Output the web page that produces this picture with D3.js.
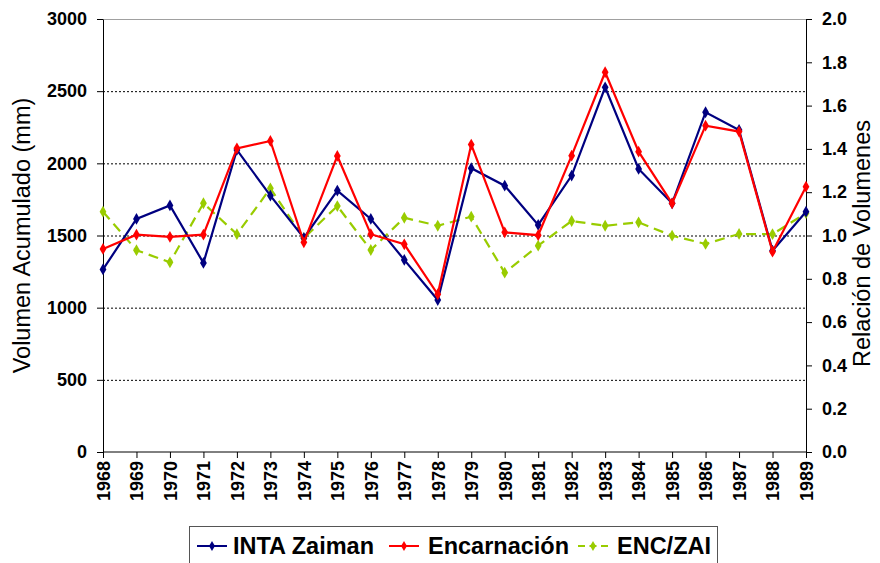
<!DOCTYPE html>
<html>
<head>
<meta charset="utf-8">
<script src="https://cdn.jsdelivr.net/npm/d3@7"></script>
<style>
  body { margin: 0; background: #fff; }
  svg { display: block; font-family: "Liberation Sans", Arial, sans-serif; }
</style>
</head>
<body>
<svg id="chart" width="880" height="563"></svg>
<script>
const years = d3.range(1968, 1990);
const inta = [1265, 1615, 1708, 1310, 2093, 1776, 1483, 1811, 1615, 1331, 1053, 1966, 1845, 1573, 1915, 2527, 1961, 1723, 2354, 2231, 1395, 1665];
const encarnacion = [1407, 1506, 1490, 1506, 2104, 2155, 1453, 2051, 1509, 1439, 1093, 2130, 1522, 1502, 2053, 2631, 2081, 1723, 2261, 2220, 1388, 1838];
const ratio = [1.11, 0.932, 0.876, 1.149, 1.006, 1.218, 0.988, 1.136, 0.933, 1.082, 1.045, 1.087, 0.828, 0.953, 1.067, 1.045, 1.061, 0.999, 0.961, 1.007, 1.006, 1.103];
const leftTicks = d3.range(0, 3001, 500);
const rightTicks = d3.range(0, 2.01, 0.2);

const margin = { top: 19, right: 74, bottom: 111, left: 103 };
const width = 880, height = 563;
const svg = d3.select('#chart');

const x = d3.scalePoint().domain(years).range([margin.left, width - margin.right]);
const yL = d3.scaleLinear().domain([0, 3000]).range([height - margin.bottom, margin.top]);
const yR = d3.scaleLinear().domain([0, 2]).range([height - margin.bottom, margin.top]);

// grid lines
svg.append('g')
  .selectAll('line')
  .data(leftTicks.filter((d) => d > 0 && d < 3000))
  .join('line')
  .attr('x1', margin.left).attr('x2', width - margin.right)
  .attr('y1', (d) => yL(d) + 0.5).attr('y2', (d) => yL(d) + 0.5)
  .attr('stroke', '#000').attr('stroke-width', 1).attr('stroke-dasharray', '2,2');

// top border
svg.append('line')
  .attr('x1', margin.left).attr('x2', width - margin.right)
  .attr('y1', yL(3000) + 0.5).attr('y2', yL(3000) + 0.5)
  .attr('stroke', '#a0a0a0').attr('stroke-width', 1);

const tickStyle = (g) => {
  g.select('.domain').attr('stroke', '#000');
  g.selectAll('.tick line').attr('stroke', '#000');
  g.selectAll('.tick text').attr('fill', '#000').attr('font-size', 18).attr('font-weight', 'bold');
};

svg.append('g')
  .attr('transform', `translate(${margin.left},0)`)
  .call(d3.axisLeft(yL).tickValues(leftTicks).tickSize(6).tickSizeOuter(0).tickPadding(10).tickFormat(d3.format('d')))
  .call(tickStyle);

svg.append('g')
  .attr('transform', `translate(${width - margin.right},0)`)
  .call(d3.axisRight(yR).tickValues(rightTicks).tickSize(6).tickSizeOuter(0).tickPadding(10).tickFormat(d3.format('.1f')))
  .call(tickStyle);

const xAxis = svg.append('g')
  .attr('transform', `translate(0,${height - margin.bottom})`)
  .call(d3.axisBottom(x).tickSize(6).tickSizeOuter(0).tickFormat(d3.format('d')))
  .call(tickStyle);
xAxis.select('.domain').attr('d', `M${margin.left},0H${width - margin.right}`);
xAxis.selectAll('.tick text')
  .attr('transform', 'rotate(-90)')
  .attr('text-anchor', 'end')
  .attr('x', -9).attr('y', 0).attr('dy', '0.35em');

// axis titles
svg.append('text')
  .attr('transform', `translate(30,${(margin.top + height - margin.bottom) / 2}) rotate(-90)`)
  .attr('text-anchor', 'middle').attr('font-size', 23.5).text('Volumen Acumulado (mm)');
svg.append('text')
  .attr('transform', `translate(870,${(margin.top + height - margin.bottom) / 2 + 8}) rotate(-90)`)
  .attr('text-anchor', 'middle').attr('font-size', 23.5).text('Relación de Volumenes');

const series = [
  { name: 'INTA Zaiman', values: inta, scale: yL, color: '#000080', dash: null },
  { name: 'Encarnación', values: encarnacion, scale: yL, color: '#ff0000', dash: null },
  { name: 'ENC/ZAI', values: ratio, scale: yR, color: '#99cc00', dash: '10,6' }
];
const diamond = d3.symbol().type(d3.symbolDiamond).size(40);

// draw ratio first so it sits beneath the other lines
[series[2], series[0], series[1]].forEach((s) => {
  const line = d3.line().x((d, i) => x(years[i])).y((d) => s.scale(d));
  svg.append('path')
    .datum(s.values)
    .attr('fill', 'none').attr('stroke', s.color).attr('stroke-width', 2.2)
    .attr('stroke-dasharray', s.dash)
    .attr('d', line);
  svg.append('g').selectAll('path')
    .data(s.values)
    .join('path')
    .attr('transform', (d, i) => `translate(${x(years[i])},${s.scale(d)})`)
    .attr('d', diamond).attr('fill', s.color);
});

// legend
const legend = svg.append('g');
legend.append('rect')
  .attr('x', 189.5).attr('y', 526.5).attr('width', 528).attr('height', 40)
  .attr('fill', '#fff').attr('stroke', '#555');
const legendX = [197, 389, 578];
const textX = [233, 428, 617];
series.forEach((s, i) => {
  const gx = legendX[i];
  legend.append('line')
    .attr('x1', gx).attr('x2', gx + 30).attr('y1', 546).attr('y2', 546)
    .attr('stroke', s.color).attr('stroke-width', 2).attr('stroke-dasharray', s.dash ? '7,4.5,7,4.5,7' : null);
  legend.append('path')
    .attr('transform', `translate(${gx + 15},546)`)
    .attr('d', d3.symbol().type(d3.symbolDiamond).size(30)).attr('fill', s.color);
  legend.append('text')
    .attr('x', textX[i]).attr('y', 546).attr('dy', '0.35em')
    .attr('font-size', 23.5).attr('font-weight', 'bold').text(s.name);
});
</script>
</body>
</html>
